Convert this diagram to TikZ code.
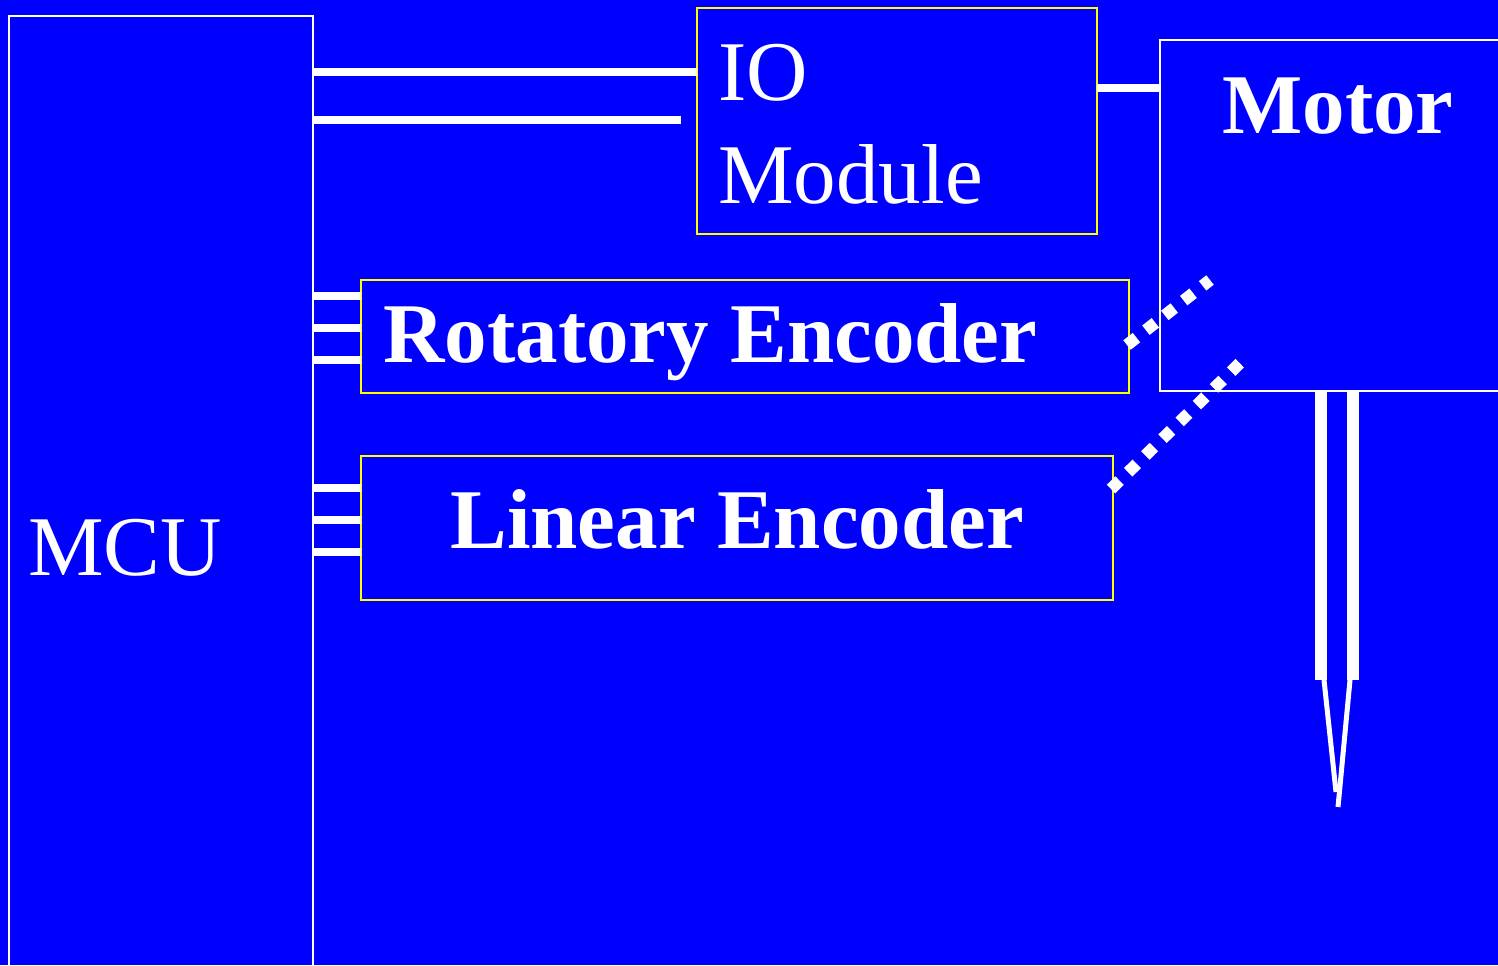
\documentclass[tikz,border=0pt]{standalone}
\usepackage{fontspec}
\setmainfont{Liberation Serif}
\definecolor{bg}{RGB}{0,0,255}
\definecolor{yel}{RGB}{255,255,0}
\begin{document}
\begin{tikzpicture}[x=0.5pt,y=-0.5pt,
  wbox/.style={draw=white,line width=1pt,inner sep=0pt,outer sep=0pt,anchor=north west,rectangle},
  ybox/.style={draw=yel,line width=1pt,inner sep=0pt,outer sep=0pt,anchor=north west,rectangle},
  txt/.style={text=white,inner sep=0pt,anchor=base west,font=\fontsize{42.5}{50}\selectfont},
  btxt/.style={txt,font=\fontsize{42.5}{50}\selectfont\bfseries},
  bus/.style={draw=white,line width=4pt},
  dots/.style={draw=white,line width=6pt,dash pattern=on 6pt off 6pt},
  shaft/.style={draw=white,line width=6pt},
  tip/.style={draw=white,line width=2.5pt}]
\useasboundingbox (0,0) rectangle (1498,965);
\clip (0,0) rectangle (1498,965);
\fill[bg] (0,0) rectangle (1498,965);
% boxes
\node[wbox,minimum width=152pt,minimum height=487pt] (MCU) at (9,16) {};
\node[ybox,minimum width=200pt,minimum height=113pt] (IO) at (697,8) {};
\node[wbox,minimum width=180pt,minimum height=175.5pt] (Motor) at (1160,40) {};
\node[ybox,minimum width=384pt,minimum height=56.5pt] (Rot) at (361,280) {};
\node[ybox,minimum width=376pt,minimum height=72pt] (Lin) at (361,456) {};
% texts
\node[txt] (mcutext) at (28,575) {MCU};
\node[txt] (iotext) at (718,100) {IO};
\node[txt] (modtext) at (718,203) {Module};
\node[btxt] (mottext) at (1222,133) {Motor};
\node[btxt] (rottext) at (383,362) {Rotatory Encoder};
\node[btxt] (lintext) at (450,548) {Linear Encoder};
% MCU - IO
\draw[bus] (MCU.east |- 0,72) -- (IO.west |- 0,72);
\coordinate (ioend) at (681,120);
\draw[bus] (MCU.east |- 0,120) -- (ioend);
% IO - Motor
\draw[bus] (IO.east |- 0,88) -- (Motor.west |- 0,88);
% MCU - Rot
\foreach \yy in {296,328,360} \draw[bus] (MCU.east |- 0,\yy) -- (Rot.west |- 0,\yy);
% MCU - Lin
\foreach \yy in {488,520,552} \draw[bus] (MCU.east |- 0,\yy) -- (Lin.west |- 0,\yy);
% dotted couplings
\coordinate (rotA) at (1127,345);
\coordinate (rotB) at (1210,280);
\draw[dots] (rotA) -- (rotB);
\coordinate (linA) at (1111,489);
\coordinate (linB) at (1243,360);
\draw[dots] (linA) -- (linB);
% shaft
\coordinate (s1) at (1321,680);
\coordinate (s2) at (1353,680);
\draw[shaft] (Motor.south -| s1) -- (s1);
\draw[shaft] (Motor.south -| s2) -- (s2);
\coordinate (t1) at (1324,680);
\coordinate (t1e) at (1336,792);
\coordinate (t2) at (1350,680);
\coordinate (t2e) at (1338,807);
\draw[tip] (t1) -- (t1e);
\draw[tip] (t2) -- (t2e);
\end{tikzpicture}
\end{document}
